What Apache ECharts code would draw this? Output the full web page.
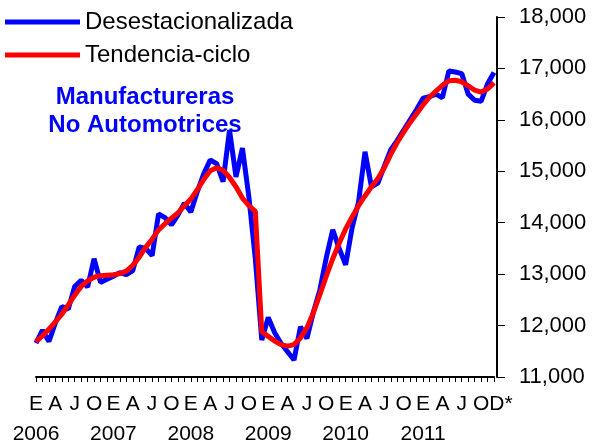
<!DOCTYPE html>
<html>
<head>
<meta charset="utf-8">
<script src="https://cdn.jsdelivr.net/npm/echarts@6/dist/echarts.min.js"></script>
<style>
html,body{margin:0;padding:0;background:#fff;}
#chart{width:603px;height:446px;}
</style>
</head>
<body>
<div id="chart"></div>
<script>
// Months Jan 2006 .. Dec 2011 (72 categories)
const years = [2006, 2007, 2008, 2009, 2010, 2011];
const monthLetters = ['E','F','M','A','M','J','J','A','S','O','N','D'];
const shownMonths = [0, 3, 6, 9];
const lastLabel = 'D*';

const desestacionalizada = [
  11660, 11910, 11690, 12050, 12370, 12320, 12760, 12880, 12750, 13300, 12840, 12900,
  12960, 13030, 12990, 13070, 13530, 13500, 13360, 14170, 14100, 13960, 14150, 14380,
  14210, 14600, 14950, 15220, 15150, 14800, 15800, 14890, 15450, 14500, 13300, 11720,
  12160, 11860, 11650, 11490, 11330, 11980, 11750, 12260, 12690, 13320, 13860, 13500,
  13180, 13900, 14400, 15380, 14700, 14770, 15100, 15420, 15600, 15800, 16000, 16200,
  16420, 16450, 16500, 16430, 16950, 16930, 16900, 16500, 16380, 16360, 16700, 16920
];
const tendenciaCiclo = [
  11690, 11800, 11930, 12070, 12220, 12400, 12590, 12760, 12870, 12940, 12970, 12980,
  12990, 13010, 13060, 13170, 13330, 13520, 13680, 13860, 13980, 14090, 14190, 14330,
  14460, 14640, 14840, 15010, 15070, 15020, 14880, 14700, 14480, 14330, 14220, 11880,
  11790, 11700, 11630, 11600, 11630, 11760, 11960, 12250, 12600, 12960, 13300, 13600,
  13880, 14110, 14330, 14520, 14700, 14860, 15070, 15330, 15560, 15760, 15950, 16120,
  16290, 16440, 16560, 16670, 16760, 16770, 16740, 16660, 16580, 16540, 16600, 16720
];
const yTicks = { min: 11000, max: 18000, interval: 1000 };

const categories = [];
years.forEach(y => { for (let m = 0; m < 12; m++) categories.push(y + '-' + (m + 1)); });

function xLabel(value, index) {
  if (index === categories.length - 1) return '{last|' + lastLabel + '}';
  const m = index % 12;
  const y = years[Math.floor(index / 12)];
  if (m === 0) return monthLetters[m] + '\n' + y;
  if (shownMonths.indexOf(m) >= 0) return monthLetters[m];
  return '';
}

const chart = echarts.init(document.getElementById('chart'), null, { renderer: 'canvas' });
const font = 'Liberation Sans, Arial, sans-serif';
chart.setOption({
  backgroundColor: '#ffffff',
  animation: false,
  grid: { left: 36, right: 109, top: 17, bottom: 69, containLabel: false, outerBoundsMode: 'none' },
  legend: {
    orient: 'vertical',
    left: 0,
    top: 5,
    itemWidth: 75,
    itemHeight: 5,
    itemGap: 9,
    icon: 'rect',
    textStyle: { fontFamily: font, fontSize: 24, color: '#000' },
    data: ['Desestacionalizada', 'Tendencia-ciclo']
  },
  graphic: [
    { type: 'text', x: 145, y: 97, style: { text: 'Manufactureras', fill: '#0000ff', font: 'bold 24px ' + font, align: 'center', verticalAlign: 'middle' } },
    { type: 'text', x: 145, y: 125, style: { text: 'No Automotrices', fill: '#0000ff', font: 'bold 24px ' + font, align: 'center', verticalAlign: 'middle' } }
  ],
  xAxis: {
    type: 'category',
    data: categories,
    boundaryGap: false,
    axisLine: { lineStyle: { color: '#000', width: 2 } },
    axisTick: { show: true, interval: 0, length: 5, lineStyle: { color: '#000', width: 1 } },
    axisLabel: {
      interval: 0,
      formatter: xLabel,
      fontFamily: font,
      fontSize: 21,
      lineHeight: 30,
      color: '#000',
      margin: 12,
      rich: {
        last: { fontFamily: font, fontSize: 21, lineHeight: 30, color: '#000', padding: [0, 0, 0, 14] }
      }
    },
    splitLine: { show: false }
  },
  yAxis: {
    type: 'value',
    position: 'right',
    offset: 3,
    min: yTicks.min,
    max: yTicks.max,
    interval: yTicks.interval,
    axisLine: { show: true, lineStyle: { color: '#000', width: 2 } },
    axisTick: { show: true, inside: false, length: 8, lineStyle: { color: '#000', width: 1 } },
    axisLabel: {
      fontFamily: font,
      fontSize: 22,
      color: '#000',
      margin: 22,
      formatter: v => v.toLocaleString('en-US')
    },
    splitLine: { show: false }
  },
  series: [
    {
      name: 'Desestacionalizada',
      type: 'line',
      data: desestacionalizada,
      symbol: 'none',
      lineStyle: { color: '#0000ff', width: 5 },
      itemStyle: { color: '#0000ff' },
      z: 2
    },
    {
      name: 'Tendencia-ciclo',
      type: 'line',
      data: tendenciaCiclo,
      symbol: 'none',
      lineStyle: { color: '#ff0000', width: 5 },
      itemStyle: { color: '#ff0000' },
      z: 3
    }
  ]
});
</script>
</body>
</html>
